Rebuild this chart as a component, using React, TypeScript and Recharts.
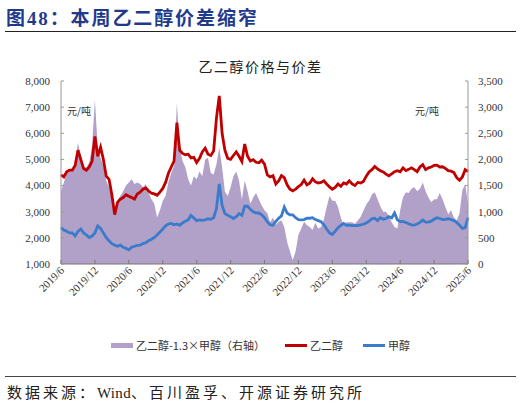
import React from 'react'
import {
  ComposedChart, Area, Line, XAxis, YAxis, Legend,
} from 'recharts'

// 半月一点：2019/6/1 ~ 2025/6/1
const dates: string[] = []
for (let k = 0; k < 145; k++) {
  const m = 5 + Math.floor(k / 2)
  dates.push(`${2019 + Math.floor(m / 12)}/${(m % 12) + 1}/${k % 2 === 0 ? 1 : 16}`)
}

// 乙二醇（元/吨）
const eg = [
  4410, 4330, 4530, 4590, 4590, 4770, 5350, 5000, 4650, 4590, 4710, 4940, 5880, 5120, 5470, 5000,
  4360, 4240, 3650, 2890, 3360, 3480, 3540, 3650, 3590, 3540, 3480, 3680, 3750, 3860, 3910, 3790,
  3710, 3680, 3630, 3750, 3890, 4120, 4470, 4710, 4940, 6410, 5350, 5230, 5180, 5200, 5060, 5080,
  4880, 5040, 5290, 5430, 5200, 5150, 5320, 6580, 7430, 6000, 5350, 5040, 5000, 5150, 5290, 5120,
  4920, 5590, 5120, 4940, 4990, 4890, 4870, 4970, 4820, 4410, 4330, 4380, 4060, 4180, 4380, 4300,
  4030, 3860, 3800, 3860, 3960, 4040, 4210, 4030, 4090, 4260, 4140, 4100, 4120, 4180, 4060, 3950,
  3860, 3930, 4060, 3970, 4100, 4060, 4180, 4060, 4000, 4120, 4100, 4160, 4360, 4520, 4610, 4730,
  4640, 4570, 4520, 4440, 4370, 4450, 4530, 4570, 4530, 4680, 4570, 4620, 4680, 4610, 4530, 4710,
  4800, 4610, 4680, 4710, 4770, 4780, 4710, 4720, 4660, 4570, 4550, 4500, 4300, 4200, 4330, 4610,
  4530,
]

// 甲醇（元/吨）
const meoh = [
  2390, 2300, 2250, 2190, 2190, 2070, 2250, 2340, 2190, 2110, 2010, 2070, 2190, 2460, 2360, 2190,
  2010, 1890, 1780, 1720, 1680, 1720, 1640, 1600, 1540, 1640, 1680, 1710, 1720, 1780, 1810, 1890,
  1950, 2010, 2110, 2220, 2340, 2460, 2530, 2550, 2500, 2530, 2480, 2570, 2640, 2690, 2860, 2760,
  2660, 2690, 2670, 2690, 2730, 2710, 2770, 3120, 4060, 3240, 2930, 2860, 2810, 2740, 2810, 2930,
  2860, 3210, 3210, 3090, 3000, 2950, 2950, 2880, 2770, 2610, 2500, 2480, 2630, 2750, 2840, 3180,
  2950, 2880, 2880, 2770, 2700, 2690, 2700, 2750, 2750, 2770, 2700, 2660, 2620, 2500, 2340, 2190,
  2130, 2250, 2390, 2480, 2550, 2480, 2490, 2470, 2480, 2470, 2500, 2520, 2570, 2640, 2730, 2750,
  2660, 2770, 2710, 2740, 2810, 2760, 2950, 2690, 2620, 2630, 2590, 2540, 2500, 2490, 2530, 2590,
  2680, 2600, 2600, 2640, 2710, 2770, 2740, 2700, 2710, 2730, 2700, 2660, 2590, 2480, 2360, 2390,
  2770,
]

// 乙二醇-1.3×甲醇（元/吨，右轴）
const spread = [
  1390, 1560, 1740, 1800, 1800, 1910, 2320, 2060, 1850, 1850, 1940, 2260, 3140, 2210, 2030, 1880,
  1590, 1470, 1300, 970, 1210, 1300, 1390, 1500, 1560, 1620, 1530, 1560, 1530, 1470, 1530, 1360,
  1240, 1150, 890, 1030, 1210, 1300, 1560, 1740, 1880, 3080, 2210, 1970, 1850, 1620, 1500, 1680,
  1620, 1770, 1680, 2000, 2030, 1740, 1710, 1910, 2230, 1850, 1380, 1300, 1470, 1680, 1770, 1590,
  1240, 1590, 1390, 1150, 1270, 1360, 1240, 1120, 1030, 970, 800, 890, 750, 810, 830, 710,
  420, 240, 70, 240, 560, 680, 810, 740, 710, 650, 790, 680, 710, 850, 1090, 1300,
  1210, 1210, 1090, 890, 740, 800, 800, 800, 770, 830, 900, 1020, 1140, 1210, 1330, 1370,
  1240, 1100, 1000, 1000, 920, 800, 710, 680, 1030, 1270, 1370, 1360, 1440, 1470, 1390, 1440,
  1560, 1390, 1270, 1180, 1240, 1240, 1360, 1240, 1090, 950, 1030, 890, 830, 970, 1410, 1530,
  1150,
]

const tickLabels = [
  '2019/6', '2019/12', '2020/6', '2020/12', '2021/6', '2021/12', '2022/6',
  '2022/12', '2023/6', '2023/12', '2024/6', '2024/12', '2025/6',
]
const xTicks = tickLabels.map((_, i) => i * 12)
const leftTicks = [1000, 2000, 3000, 4000, 5000, 6000, 7000, 8000]
const rightTicks = [0, 500, 1000, 1500, 2000, 2500, 3000, 3500]

const data = dates.map((d, i) => ({ i, date: d, eg: eg[i], meoh: meoh[i], spread: spread[i] }))

const SERIF = "'Liberation Serif', 'Noto Sans CJK SC', serif"
const CJK = "'Noto Sans CJK SC', 'Liberation Serif', sans-serif"
const fmt = (v: number) => v.toLocaleString('en-US')

const XTick = ({ x, y, payload }: any) => {
  const label = tickLabels[Math.round(payload.value / 12)]
  const ax = x + 4, ay = y + 7
  return (
    <g>
      <line x1={x} y1={y} x2={x} y2={y - 4} stroke="#777" />
      <text x={ax} y={ay} textAnchor="end" fontSize={11} fontFamily={SERIF} fill="#333"
        transform={`rotate(-45 ${ax} ${ay})`}>{label}</text>
    </g>
  )
}

const LeftTick = ({ x, y, payload }: any) => (
  <g>
    <line x1={x} y1={y} x2={x + 3} y2={y} stroke="#999" />
    <text x={x - 11} y={y} dy="0.35em" textAnchor="end" fontSize={11} fontFamily={SERIF} fill="#333">
      {fmt(payload.value)}
    </text>
  </g>
)

const RightTick = ({ x, y, payload }: any) => (
  <g>
    <line x1={x} y1={y} x2={x - 3} y2={y} stroke="#999" />
    <text x={x + 10} y={y} dy="0.35em" textAnchor="start" fontSize={11} fontFamily={SERIF} fill="#333">
      {fmt(payload.value)}
    </text>
  </g>
)

const legendItems = [
  { name: '乙二醇-1.3×甲醇（右轴）', color: '#B1A0C7', h: 5 },
  { name: '乙二醇', color: '#C00000', h: 3 },
  { name: '甲醇', color: '#3A7BCB', h: 3 },
]

const LegendContent = () => (
  <div style={{ display: 'flex', justifyContent: 'center', alignItems: 'center', gap: 20 }}>
    {legendItems.map((it) => (
      <div key={it.name} style={{ display: 'flex', alignItems: 'center' }}>
        <span style={{ display: 'inline-block', width: 22, height: it.h, background: it.color, marginRight: 3 }} />
        <span style={{ fontSize: 11, fontFamily: CJK, color: '#333' }}>{it.name}</span>
      </div>
    ))}
  </div>
)

export default function App() {
  return (
    <div style={{ position: 'absolute', left: 0, top: 0, width: 521, height: 405, background: '#fff', overflow: 'hidden' }}>
      <div style={{ position: 'absolute', left: 6, top: 3, fontSize: 19, fontWeight: 'bold', color: '#1F3A8C', fontFamily: SERIF, letterSpacing: 1.9, whiteSpace: 'nowrap' }}>
        图48：本周乙二醇价差缩窄
      </div>
      <div style={{ position: 'absolute', left: 5, top: 31, width: 511, height: 1, background: '#222' }} />

      <div style={{ position: 'absolute', left: 0, width: 521, top: 56, textAlign: 'center', fontSize: 14, fontFamily: CJK, color: '#222', letterSpacing: 1.5 }}>
        乙二醇价格与价差
      </div>

      <ComposedChart width={521} height={405} data={data}
        margin={{ top: 81, right: 8, left: 11, bottom: 85 }}
        style={{ position: 'absolute', left: 0, top: 0 }}>
        <XAxis dataKey="i" type="number" domain={[0, 144]} ticks={xTicks} interval={0}
          tick={<XTick />} tickLine={false} tickSize={0} tickMargin={0} height={40}
          axisLine={{ stroke: '#777' }} />
        <YAxis yAxisId="left" domain={[1000, 8000]} ticks={leftTicks} width={50}
          tick={<LeftTick />} tickLine={false} tickSize={0} tickMargin={0}
          axisLine={{ stroke: '#999' }} />
        <YAxis yAxisId="right" orientation="right" domain={[0, 3500]} ticks={rightTicks} width={45}
          tick={<RightTick />} tickLine={false} tickSize={0} tickMargin={0}
          axisLine={{ stroke: '#999' }} />
        <Area yAxisId="right" dataKey="spread" type="linear" fill="#B1A0C7" fillOpacity={1}
          stroke="none" isAnimationActive={false} />
        <Line yAxisId="left" dataKey="eg" type="linear" stroke="#C00000" strokeWidth={2.8}
          dot={false} isAnimationActive={false} />
        <Line yAxisId="left" dataKey="meoh" type="linear" stroke="#3A7BCB" strokeWidth={2.8}
          dot={false} isAnimationActive={false} />
        <Legend content={<LegendContent />} wrapperStyle={{ position: 'absolute', top: 337, left: 0, width: 521 }} />
      </ComposedChart>

      <div style={{ position: 'absolute', left: 67, top: 103, fontSize: 10, fontFamily: CJK, color: '#333' }}>元/吨</div>
      <div style={{ position: 'absolute', left: 415, top: 103, fontSize: 10, fontFamily: CJK, color: '#333' }}>元/吨</div>

      <div style={{ position: 'absolute', left: 5, top: 376, width: 511, height: 1, background: '#444' }} />
      <div style={{ position: 'absolute', left: 7, top: 381, fontSize: 15, fontFamily: SERIF, color: '#222', letterSpacing: 3, whiteSpace: 'nowrap' }}>
        数据来源：<span style={{ letterSpacing: 0.3 }}>Wind</span>、百川盈孚、开源证券研究所
      </div>
    </div>
  )
}
